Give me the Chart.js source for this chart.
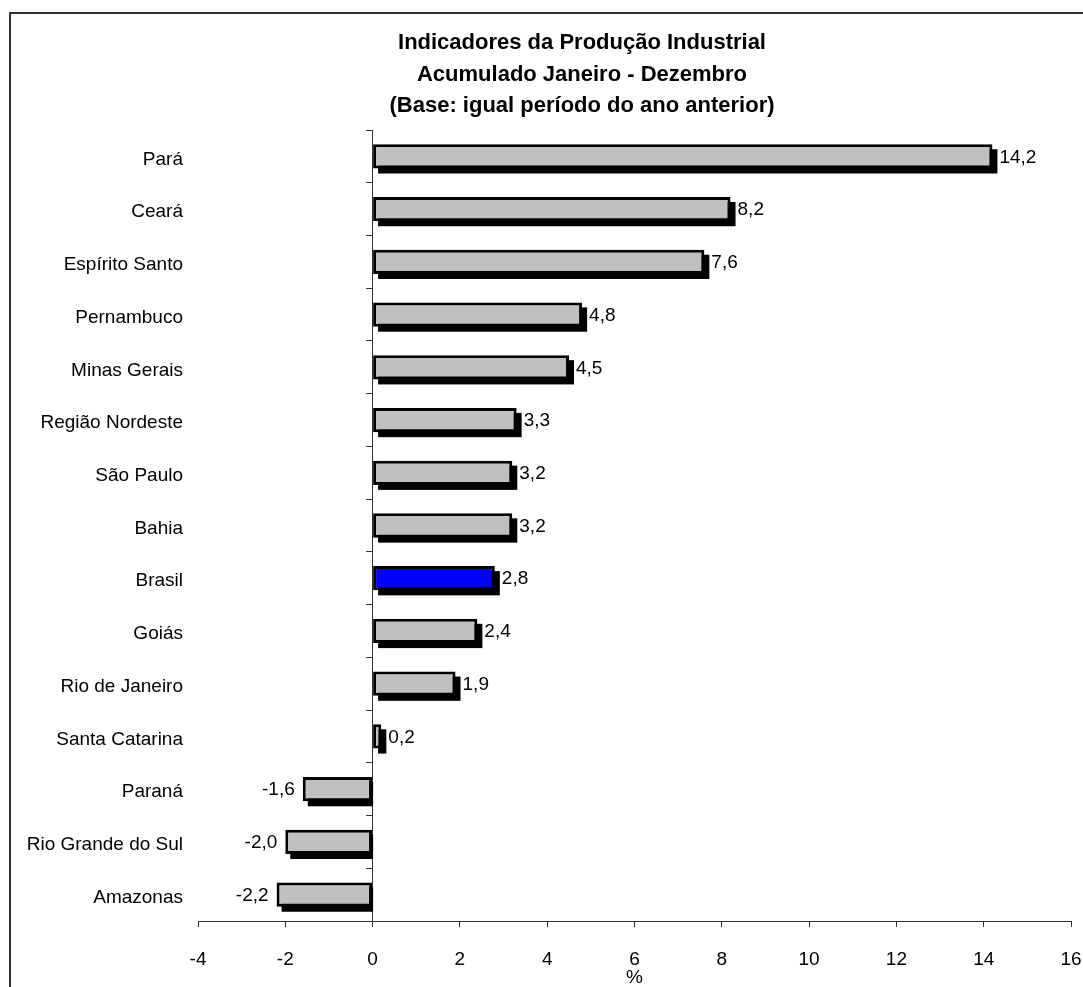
<!DOCTYPE html>
<html>
<head>
<meta charset="utf-8">
<title>Indicadores da Produção Industrial</title>
<script src="https://cdn.jsdelivr.net/npm/chart.js@4/dist/chart.umd.min.js"></script>
<style>
  html, body { margin: 0; padding: 0; background: #fff; }
  #wrap { width: 1083px; height: 987px; }
</style>
</head>
<body>
<div id="wrap"><canvas id="chart" width="1083" height="987"></canvas></div>
<script>
// Acumulado jan-dez, variação % sobre igual período do ano anterior
const regioes = [
  'Pará', 'Ceará', 'Espírito Santo', 'Pernambuco', 'Minas Gerais',
  'Região Nordeste', 'São Paulo', 'Bahia', 'Brasil', 'Goiás',
  'Rio de Janeiro', 'Santa Catarina', 'Paraná', 'Rio Grande do Sul', 'Amazonas'
];
const variacao = [14.2, 8.2, 7.6, 4.8, 4.5, 3.3, 3.2, 3.2, 2.8, 2.4, 1.9, 0.2, -1.6, -2.0, -2.2];
const titulo = [
  'Indicadores da Produção Industrial',
  'Acumulado Janeiro - Dezembro',
  '(Base: igual período do ano anterior)'
];
const eixoX = { min: -4, max: 16, passo: 2 };

const FONT = 'Arial, "Liberation Sans", sans-serif';
Chart.defaults.font.family = FONT;
Chart.defaults.font.size = 19;
Chart.defaults.color = '#000';

const corBarra = regioes.map(r => r === 'Brasil' ? '#0000ff' : '#c0c0c0');

// moldura do objeto gráfico
const moldura = {
  id: 'moldura',
  beforeDraw(chart) {
    const ctx = chart.ctx;
    ctx.save();
    ctx.strokeStyle = '#333';
    ctx.lineWidth = 2;
    ctx.beginPath();
    ctx.moveTo(10, 2000);
    ctx.lineTo(10, 13);
    ctx.lineTo(2000, 13);
    ctx.stroke();
    ctx.restore();
  }
};

// título em três linhas, centrado no objeto
const tituloPlugin = {
  id: 'tituloPlugin',
  afterDraw(chart) {
    const ctx = chart.ctx;
    ctx.save();
    ctx.font = 'bold 22px ' + FONT;
    ctx.fillStyle = '#000';
    ctx.textAlign = 'center';
    ctx.textBaseline = 'alphabetic';
    titulo.forEach((t, i) => ctx.fillText(t, 582, 49 + i * 31.5));
    ctx.restore();
  }
};

// sombra preta deslocada sob cada barra
const sombra = {
  id: 'sombra',
  beforeDatasetsDraw(chart) {
    const ctx = chart.ctx;
    const meta = chart.getDatasetMeta(0);
    const d = 5;
    ctx.save();
    ctx.fillStyle = '#000';
    meta.data.forEach((bar) => {
      const p = bar.getProps(['x', 'y', 'base', 'height'], true);
      const top = p.y - p.height / 2 + d;
      let left, right;
      if (p.x >= p.base) {
        left = p.base + d;
        right = p.x + d;
      } else {
        left = p.x + d;
        right = p.base + 1;
      }
      ctx.fillRect(left, top, right - left, p.height);
    });
    ctx.restore();
  }
};

// rótulos de valor com vírgula decimal
const rotulos = {
  id: 'rotulos',
  afterDatasetsDraw(chart) {
    const ctx = chart.ctx;
    const meta = chart.getDatasetMeta(0);
    ctx.save();
    ctx.font = '19px ' + FONT;
    ctx.fillStyle = '#000';
    ctx.textBaseline = 'middle';
    meta.data.forEach((bar, i) => {
      const v = variacao[i];
      const txt = v.toFixed(1).replace('.', ',');
      if (v >= 0) {
        ctx.textAlign = 'left';
        ctx.fillText(txt, bar.x + 7, bar.y + 1);
      } else {
        ctx.textAlign = 'right';
        ctx.fillText(txt, bar.x - 8, bar.y + 1);
      }
    });
    ctx.restore();
  }
};

new Chart(document.getElementById('chart'), {
  type: 'bar',
  data: {
    labels: regioes,
    datasets: [{
      data: variacao,
      backgroundColor: corBarra,
      borderColor: '#000',
      borderWidth: 3,
      borderSkipped: false,
      barPercentage: 0.46,
      categoryPercentage: 1
    }]
  },
  options: {
    indexAxis: 'y',
    responsive: false,
    animation: false,
    layout: { padding: { left: 0, right: 12, top: 130, bottom: 0 } },
    plugins: {
      legend: { display: false },
      tooltip: { enabled: false },
      title: { display: false }
    },
    scales: {
      x: {
        min: eixoX.min,
        max: eixoX.max,
        ticks: { stepSize: eixoX.passo, padding: 21, color: '#000' },
        grid: { drawOnChartArea: false, drawTicks: true, tickLength: 6, color: '#333' },
        border: { color: '#333', width: 1 },
        title: { display: true, text: '%', padding: 0, font: { size: 19, lineHeight: 1 } },
        afterFit(s) {
          s.height = 66;
          // o padding dos rótulos não deve estreitar a área do gráfico
          s.paddingLeft = 0;
          s.paddingRight = 0;
        }
      },
      y: {
        position: 'left',
        grid: { display: false, drawTicks: false },
        border: { display: false },
        ticks: { padding: 15, labelOffset: 3, color: '#000' },
        afterFit(s) { s.width = 198; }
      },
      // eixo vertical sobre o zero, com marcas entre as categorias
      eixoZero: {
        type: 'category',
        axis: 'y',
        labels: regioes,
        position: { x: 0 },
        offset: true,
        grid: { offset: true, drawOnChartArea: false, drawTicks: true, tickLength: 6, color: '#333' },
        border: { color: '#333', width: 1 },
        ticks: { display: false },
        afterFit(s) { s.width = 0; }
      }
    }
  },
  plugins: [moldura, sombra, rotulos, tituloPlugin]
});
</script>
</body>
</html>
